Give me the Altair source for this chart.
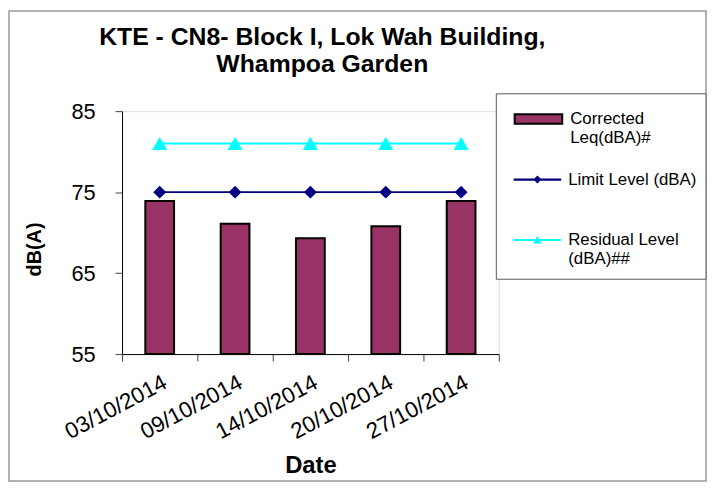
import altair as alt
import pandas as pd

# ---- data ----
dates = ["03/10/2014", "09/10/2014", "14/10/2014", "20/10/2014", "27/10/2014"]
corrected = [73.9, 71.1, 69.3, 70.8, 73.9]
limit = [75, 75, 75, 75, 75]
residual = [81, 81, 81, 81, 81]

series_names = ["Corrected Leq(dBA)#", "Limit Level (dBA)", "Residual Level (dBA)##"]
series_colors = ["#993366", "#000080", "#00FFFF"]
y_ticks = [55, 65, 75, 85]
y_min, y_max = 55, 85

FONT = "Liberation Sans"

bar_df = pd.DataFrame({"date": dates, "value": corrected, "series": series_names[0]})
limit_df = pd.DataFrame({"date": dates, "value": limit, "series": series_names[1]})
resid_df = pd.DataFrame({"date": dates, "value": residual, "series": series_names[2]})

x_enc = alt.X(
    "date:N",
    sort=dates,
    title="Date",
    scale=alt.Scale(paddingInner=0, paddingOuter=0),
    axis=alt.Axis(
        labelAngle=-28,
        labelAlign="right",
        labelBaseline="top",
        labelFontSize=22.5,
        labelFont=FONT,
        labelColor="black",
        labelPadding=10,
        labelLimit=300,
        tickBand="extent",
        tickSize=7,
        tickColor="#444444",
        domainColor="black",
        titleFont=FONT,
        titleFontSize=24,
        titleFontWeight="bold",
        titleColor="black",
        titlePadding=11,
    ),
)
y_enc = alt.Y(
    "value:Q",
    title="dB(A)",
    scale=alt.Scale(domain=[y_min, y_max], nice=False, zero=False),
    axis=alt.Axis(
        values=y_ticks,
        grid=False,
        labelFontSize=22,
        labelFont=FONT,
        labelColor="black",
        labelPadding=20,
        tickSize=7,
        tickColor="#444444",
        domainColor="black",
        titleFont=FONT,
        titleFontSize=20,
        titleFontWeight="bold",
        titleColor="black",
        titleAngle=-90,
        titleX=-88,
        titleY=139,
        titleAlign="center",
        titleBaseline="middle",
    ),
)

S0, S1, S2 = series_names
P_BAR = "M-1,-0.2H1V0.2H-1Z"
P_LIM = "M-1,-0.045H1V0.045H-1Z M0,-0.17L0.17,0L0,0.17L-0.17,0Z"
P_RES = "M-1,-0.045H1V0.045H-1Z M0,-0.17L0.18,0.14L-0.18,0.14Z"


def make_legend(path, y, expr, stroke_color, stroke_width):
    return alt.Legend(
        title=None,
        orient="none",
        legendX=395,
        legendY=y,
        padding=0,
        labelFont=FONT,
        labelFontSize=17,
        labelColor="black",
        labelOffset=7,
        labelLimit=300,
        labelBaseline="middle",
        symbolSize=2304,
        symbolType=path,
        symbolOpacity=1,
        symbolStrokeColor=stroke_color,
        symbolStrokeWidth=stroke_width,
        labelExpr=expr,
    )


leg_bar = make_legend(P_BAR, -17, "['Corrected', 'Leq(dBA)#']", "black", 2)
leg_lim = make_legend(P_LIM, 45, "datum.label", "#000080", 0)
leg_res = make_legend(P_RES, 106, "['Residual Level', '(dBA)##']", "#00FFFF", 0)


def color_for(i, legend):
    return alt.Color(
        "series:N",
        scale=alt.Scale(domain=[series_names[i]], range=[series_colors[i]]),
        legend=legend,
    )


bars = alt.Chart(bar_df).mark_bar(size=29, stroke="black", strokeWidth=2).encode(
    x=x_enc, y=y_enc, y2=alt.datum(y_min), color=color_for(0, leg_bar)
)

limit_line = alt.Chart(limit_df).mark_line(strokeWidth=2).encode(
    x=x_enc, y=y_enc, color=color_for(1, leg_lim)
)
limit_pts = alt.Chart(limit_df).mark_point(
    shape="diamond", filled=True, size=170, opacity=1
).encode(x=x_enc, y=y_enc, color=color_for(1, leg_lim))

resid_line = alt.Chart(resid_df).mark_line(strokeWidth=2).encode(
    x=x_enc, y=y_enc, color=color_for(2, leg_res)
)
resid_pts = alt.Chart(resid_df).mark_point(
    shape="triangle-up", filled=True, size=230, opacity=1
).encode(x=x_enc, y=y_enc, color=color_for(2, leg_res))

# chart-area frame and legend box (decoration)
frame = alt.Chart(alt.Data(values=[{"k": 1}])).mark_rect(
    fill="transparent", stroke="#999999", strokeWidth=1.5
).encode(
    x=alt.value(-114),
    x2=alt.value(589),
    y=alt.value(-101),
    y2=alt.value(373),
)
legend_box = alt.Chart(alt.Data(values=[{"k": 1}])).mark_rect(
    fill="white", stroke="#555555", strokeWidth=1
).encode(
    x=alt.value(377.5),
    x2=alt.value(589),
    y=alt.value(-17.5),
    y2=alt.value(169.5),
)

chart = (
    alt.layer(
        frame,
        legend_box,
        bars,
        alt.layer(limit_line, limit_pts),
        alt.layer(resid_line, resid_pts),
    )
    .resolve_scale(color="independent")
    .properties(
        width=380,
        height=245,
        autosize=alt.AutoSizeParams(type="none"),
        padding={"left": 115, "top": 102, "right": 210, "bottom": 129},
        title=alt.TitleParams(
            text=["KTE - CN8- Block I, Lok Wah Building,", "Whampoa Garden"],
            font=FONT,
            fontSize=25,
            fontWeight="bold",
            color="black",
            anchor="middle",
            frame="group",
            offset=-67,
            dx=12,
            lineHeight=27,
        ),
    )
    .configure_view(stroke=None)
    .configure(background="white")
)

chart.save("out.html", embed_options={"renderer": "svg", "actions": False})
